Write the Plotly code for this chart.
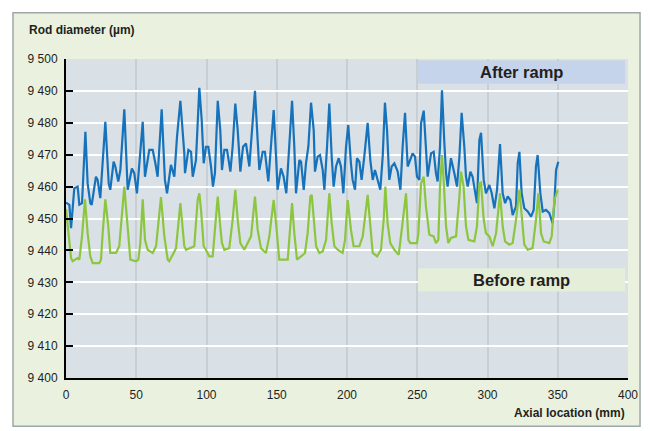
import plotly.graph_objects as go

# ---- data ----
after_x = [0, 2.4, 3.6, 5.9, 8.3, 9.5, 11.4, 13.8, 15.4, 17.3, 18.3, 21.3, 22.5, 24.4, 28.0, 30.4, 31.5, 33.9, 35.1, 36.3,
           37.2, 38.7, 41.5, 43.9, 46.9, 48.6, 50.5, 54.6, 56.2, 59.3, 61.7, 63.6, 65.2, 68.1, 70.4, 71.9, 74.7, 77.1, 79.0, 81.4,
           84.2, 84.7, 87.1, 89.0, 90.2, 92.5, 93.2, 94.9, 96.6, 98.0, 99.6, 101.3, 103.2, 104.6, 106.0, 108.0, 109.8, 111.0, 112.7, 114.6,
           117.0, 118.6, 120.5, 122.2, 124.1, 126.0, 128.1, 130.5, 131.7, 134.5, 136.4, 137.6, 140.0, 141.6, 144.0, 145.9, 147.8, 149.5, 150.6, 153.0,
           154.9, 156.8, 158.2, 160.9, 162.5, 163.7, 166.1, 167.3, 169.2, 170.8, 172.5, 174.4, 176.3, 177.2, 179.1, 180.8, 182.7, 183.9, 185.8, 187.4,
           189.1, 190.5, 192.2, 194.1, 195.7, 197.4, 199.3, 200.9, 202.8, 204.0, 205.7, 207.1, 208.8, 210.4, 212.3, 214.7, 216.6, 218.3, 219.9, 221.8,
           223.7, 225.4, 227.0, 228.5, 230.1, 231.8, 233.7, 236.1, 238.0, 239.6, 241.3, 243.2, 245.1, 246.7, 248.4, 249.8, 251.5, 252.7, 254.6, 256.2,
           257.4, 259.8, 261.7, 263.3, 264.5, 266.2, 267.6, 269.3, 270.5, 271.6, 274.0, 276.4, 278.3, 280.0, 281.6, 283.5, 284.7, 285.9, 287.8, 289.4,
           291.1, 292.5, 294.2, 295.4, 297.3, 298.9, 301.3, 303.0, 304.9, 306.8, 308.9, 310.8, 312.5, 314.4, 316.3, 317.9, 320.3, 321.5, 322.7, 324.3,
           326.2, 328.6, 331.0, 332.9, 334.5, 335.7, 337.6, 339.3, 341.6, 344.0, 346.4, 347.6, 348.8, 350.4]
after_y = [9455.0, 9454.3, 9447.0, 9459.5, 9460.0, 9454.3, 9454.8, 9477.2, 9461.0, 9454.8, 9454.3, 9463.1, 9462.1, 9456.4, 9480.3, 9461.0, 9459.0, 9467.8, 9466.3, 9463.6,
           9461.6, 9465.2, 9484.2, 9459.0, 9465.7, 9464.2, 9457.9, 9480.3, 9463.1, 9471.5, 9471.5, 9467.3, 9463.1, 9484.2, 9462.1, 9457.9, 9466.8, 9463.1, 9475.6, 9486.9,
           9470.4, 9464.2, 9471.5, 9470.9, 9463.1, 9468.3, 9474.6, 9491.0, 9480.8, 9467.3, 9472.5, 9472.5, 9466.3, 9460.0, 9464.2, 9486.9, 9477.7, 9465.2, 9471.5, 9471.5,
           9464.7, 9472.5, 9486.0, 9477.7, 9464.7, 9472.5, 9473.5, 9466.3, 9473.5, 9490.0, 9474.6, 9465.2, 9470.9, 9470.9, 9461.6, 9474.6, 9484.0, 9469.4, 9459.0, 9465.7,
           9463.1, 9457.9, 9468.3, 9486.9, 9472.5, 9457.9, 9468.3, 9467.8, 9459.0, 9467.3, 9472.5, 9486.3, 9477.7, 9464.7, 9469.4, 9469.9, 9465.2, 9459.0, 9472.5, 9486.0,
           9469.4, 9460.0, 9466.3, 9468.9, 9466.3, 9457.9, 9472.5, 9479.3, 9467.3, 9462.1, 9459.0, 9468.9, 9467.8, 9462.1, 9469.4, 9480.0, 9468.3, 9462.1, 9465.2, 9462.1,
           9459.0, 9469.4, 9486.3, 9477.7, 9462.1, 9466.3, 9467.3, 9464.7, 9459.0, 9472.5, 9483.1, 9466.3, 9468.3, 9470.4, 9469.4, 9463.1, 9462.1, 9479.8, 9483.8, 9469.4,
           9463.1, 9470.4, 9470.9, 9464.2, 9461.6, 9472.5, 9490.2, 9473.5, 9464.2, 9460.0, 9468.9, 9464.2, 9460.0, 9469.4, 9483.1, 9472.5, 9463.1, 9460.0, 9464.7, 9463.1,
           9459.0, 9454.8, 9474.6, 9476.9, 9462.1, 9457.9, 9460.5, 9457.9, 9453.2, 9459.0, 9473.3, 9457.9, 9454.8, 9456.9, 9455.8, 9451.1, 9453.8, 9467.3, 9470.9, 9457.9,
           9453.2, 9452.2, 9450.6, 9452.7, 9466.3, 9469.9, 9457.9, 9452.2, 9452.7, 9451.7, 9448.5, 9454.8, 9465.2, 9467.8]

before_x = [0, 3.6, 4.7, 8.3, 9.5, 11.4, 13.5, 15.4, 17.3, 19.0, 23.7, 24.9, 26.1, 28.0, 30.1, 31.5, 35.6, 37.9, 41.5, 43.9,
            45.8, 49.8, 51.5, 52.9, 54.6, 56.2, 58.1, 61.7, 64.1, 67.6, 70.0, 72.4, 73.5, 76.6, 78.3, 81.4, 84.2, 85.4, 91.3, 93.7,
            94.9, 96.1, 98.0, 99.6, 102.0, 104.4, 105.6, 108.0, 109.8, 111.0, 112.7, 116.2, 118.6, 120.5, 122.2, 124.1, 126.9, 129.3, 131.7, 134.5,
            136.4, 138.8, 142.3, 144.7, 147.8, 149.5, 151.8, 157.8, 159.0, 160.9, 162.5, 164.4, 167.3, 170.1, 172.0, 173.9, 174.9, 176.3, 178.0, 180.3,
            182.7, 185.1, 187.4, 189.1, 191.0, 193.4, 196.9, 198.6, 200.5, 202.8, 204.7, 208.8, 211.2, 214.7, 216.6, 218.3, 221.4, 224.2, 226.1, 227.3,
            228.9, 230.8, 233.7, 236.8, 238.4, 242.0, 243.7, 245.1, 249.8, 250.8, 252.7, 254.6, 256.2, 258.6, 261.7, 263.3, 265.0, 266.2, 267.6, 268.8,
            270.5, 272.1, 274.0, 277.6, 280.0, 281.1, 283.0, 284.7, 286.4, 290.6, 292.5, 294.2, 295.4, 297.3, 298.9, 301.3, 303.7, 306.1, 308.9, 310.8,
            312.5, 315.5, 317.9, 320.3, 322.7, 324.6, 326.2, 328.6, 332.1, 334.5, 336.2, 338.1, 340.0, 344.0, 345.7, 347.6, 350.0]
before_y = [9453.0, 9437.6, 9436.6, 9437.6, 9437.1, 9444.4, 9456.0, 9445.4, 9438.1, 9436.0, 9436.0, 9437.1, 9445.4, 9456.0, 9447.5, 9439.2, 9439.2, 9441.3, 9460.0, 9445.9,
            9437.1, 9436.6, 9437.1, 9442.3, 9456.0, 9443.3, 9440.2, 9439.2, 9441.3, 9456.7, 9444.4, 9437.1, 9436.6, 9439.2, 9440.7, 9454.8, 9441.3, 9440.2, 9441.3, 9455.8,
            9457.9, 9452.7, 9441.3, 9440.2, 9438.1, 9438.1, 9445.4, 9456.9, 9447.5, 9442.3, 9440.2, 9440.7, 9449.6, 9459.0, 9449.6, 9442.3, 9440.2, 9442.3, 9444.4, 9456.9,
            9446.5, 9440.7, 9439.2, 9444.4, 9455.8, 9448.5, 9437.1, 9437.1, 9444.4, 9454.8, 9445.4, 9437.1, 9438.1, 9439.2, 9445.4, 9456.9, 9457.4, 9450.6, 9441.3, 9439.2,
            9439.7, 9443.3, 9457.9, 9448.5, 9441.3, 9440.2, 9439.2, 9443.3, 9455.8, 9446.5, 9441.3, 9441.3, 9444.4, 9457.4, 9447.5, 9439.2, 9438.1, 9440.2, 9449.6, 9460.0,
            9448.5, 9442.3, 9440.2, 9438.6, 9444.4, 9457.9, 9443.3, 9442.3, 9442.3, 9445.4, 9461.0, 9463.1, 9453.8, 9444.9, 9444.4, 9442.3, 9443.3, 9460.0, 9469.9, 9462.1,
            9447.5, 9442.3, 9443.9, 9444.4, 9456.9, 9464.7, 9460.0, 9447.5, 9443.3, 9442.8, 9447.5, 9461.0, 9461.3, 9449.6, 9445.4, 9444.4, 9441.3, 9445.4, 9457.9, 9447.5,
            9442.8, 9441.8, 9442.3, 9449.6, 9459.0, 9448.5, 9441.8, 9440.2, 9440.7, 9449.6, 9457.9, 9445.4, 9442.8, 9442.3, 9444.4, 9455.8, 9459.0]

x_ticks = [0, 50, 100, 150, 200, 250, 300, 350, 400]
y_ticks = [9400, 9410, 9420, 9430, 9440, 9450, 9460, 9470, 9480, 9490, 9500]
y_tick_labels = ["9 400", "9 410", "9 420", "9 430", "9 440", "9 450", "9 460", "9 470", "9 480", "9 490", "9 500"]
series_names = ["After ramp", "Before ramp"]

FONT = "Liberation Sans, Arial, sans-serif"
TXT = "#231F20"
BLUE = "#1672BA"
GREEN = "#8CC63F"

fig = go.Figure()
fig.add_trace(go.Scatter(x=after_x, y=after_y, mode="lines", name=series_names[0],
                         line=dict(color=BLUE, width=2.2)))
fig.add_trace(go.Scatter(x=before_x, y=before_y, mode="lines", name=series_names[1],
                         line=dict(color=GREEN, width=2.2)))

shapes = [
    # outer panel
    dict(type="rect", xref="paper", yref="paper", x0=-0.0943, x1=1.0214, y0=-0.1516, y1=1.1453,
         fillcolor="#EAF2DF", line=dict(color="#9EA7A9", width=1.5), layer="below"),
    # plot background
    dict(type="rect", xref="paper", yref="paper", x0=0, x1=1, y0=0, y1=1,
         fillcolor="#D9E0E6", line=dict(width=0), layer="below"),
    # legend boxes
    dict(type="rect", xref="x", yref="y", x0=250.5, x1=397.9, y0=9492.25, y1=9499.5,
         fillcolor="#C6D4EB", line=dict(width=0), layer="above"),
    dict(type="rect", xref="x", yref="y", x0=250.5, x1=397.9, y0=9427.1, y1=9434.4,
         fillcolor="#E4EED8", line=dict(width=0), layer="above"),
]

annotations = [
    dict(text="<b>Rod diameter (µm)</b>", xref="paper", yref="paper", x=-0.0694, y=1.0906,
         xanchor="left", yanchor="middle", showarrow=False, font=dict(size=12, color=TXT, family=FONT)),
    dict(text="<b>Axial location (mm)</b>", xref="paper", yref="paper", x=0.998, y=-0.11,
         xanchor="right", yanchor="middle", showarrow=False, font=dict(size=12, color=TXT, family=FONT)),
    dict(text="<b>" + series_names[0] + "</b>", xref="x", yref="y", x=324.2, y=9495.9,
         xanchor="center", yanchor="middle", showarrow=False, font=dict(size=16.5, color=TXT, family=FONT)),
    dict(text="<b>" + series_names[1] + "</b>", xref="x", yref="y", x=324.2, y=9430.75,
         xanchor="center", yanchor="middle", showarrow=False, font=dict(size=16.5, color=TXT, family=FONT)),
]

fig.update_layout(
    width=651, height=431,
    margin=dict(l=58, r=31, t=50.5, b=60.5),
    paper_bgcolor="white",
    plot_bgcolor="rgba(0,0,0,0)",
    showlegend=False,
    shapes=shapes,
    annotations=annotations,
    font=dict(family=FONT, color=TXT, size=12),
    xaxis=dict(range=[0, 400], tickmode="array", tickvals=x_ticks, ticks="",
               showgrid=True, gridcolor="#C9CED3", gridwidth=2, zeroline=False,
               showline=True, linecolor="black", linewidth=2, ticklabelstandoff=5,
               tickfont=dict(size=12, color=TXT, family=FONT)),
    yaxis=dict(range=[9400, 9500], tickmode="array", tickvals=y_ticks, ticktext=y_tick_labels,
               ticks="inside", ticklen=7, tickwidth=2, tickcolor="black",
               showgrid=True, gridcolor="white", gridwidth=2, zeroline=False,
               showline=True, linecolor="black", linewidth=2, ticklabelstandoff=4,
               tickfont=dict(size=12, color=TXT, family=FONT)),
)

fig.write_html("out.html")
